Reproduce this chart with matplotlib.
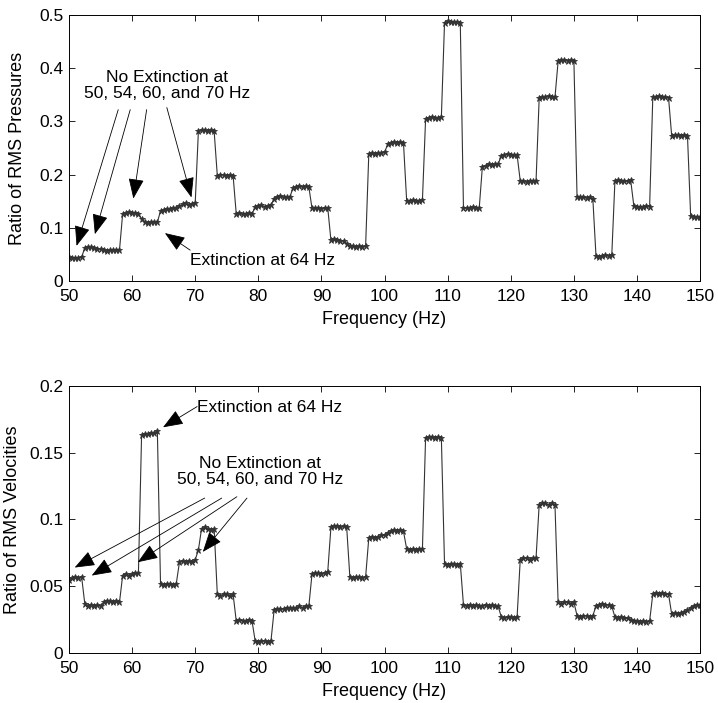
import numpy as np
import matplotlib
matplotlib.use("Agg")
import matplotlib.pyplot as plt

plt.rcParams['font.family'] = ['Liberation Sans', 'DejaVu Sans']

# Frequency grid (Hz), 0.5 Hz resolution
freq = np.arange(50, 150.25, 0.5)

pressure_ratio = [
    0.045, 0.044, 0.043, 0.044, 0.045,
    0.062, 0.064, 0.063, 0.062, 0.061, 0.060,
    0.058, 0.057, 0.058, 0.059, 0.058, 0.058,
    0.126, 0.128, 0.129, 0.127, 0.128, 0.126,
    0.117, 0.110, 0.109, 0.110, 0.111, 0.110,
    0.132, 0.134, 0.136, 0.135, 0.137, 0.138,
    0.141, 0.144, 0.146, 0.143, 0.145, 0.147,
    0.281, 0.283, 0.284, 0.282, 0.283, 0.281,
    0.198, 0.199, 0.200, 0.198, 0.199, 0.198,
    0.126, 0.127, 0.125, 0.126, 0.127, 0.126,
    0.139, 0.141, 0.142, 0.140, 0.141, 0.142,
    0.155, 0.158, 0.159, 0.157, 0.158, 0.158,
    0.175, 0.177, 0.178, 0.177, 0.178, 0.177,
    0.137, 0.138, 0.137, 0.136, 0.138, 0.137,
    0.077, 0.078, 0.077, 0.076, 0.075, 0.070,
    0.066, 0.065, 0.064, 0.065, 0.064, 0.066,
    0.238, 0.240, 0.239, 0.241, 0.240, 0.242,
    0.257, 0.259, 0.261, 0.260, 0.261, 0.259,
    0.151, 0.150, 0.152, 0.151, 0.150, 0.152,
    0.304, 0.306, 0.308, 0.307, 0.306, 0.308,
    0.485, 0.488, 0.487, 0.486, 0.487, 0.485,
    0.138, 0.137, 0.138, 0.139, 0.138, 0.137,
    0.215, 0.217, 0.219, 0.218, 0.219, 0.220,
    0.235, 0.237, 0.238, 0.237, 0.236, 0.237,
    0.188, 0.187, 0.186, 0.187, 0.188, 0.187,
    0.344, 0.346, 0.345, 0.347, 0.346, 0.345,
    0.413, 0.415, 0.416, 0.414, 0.415, 0.414,
    0.158, 0.157, 0.158, 0.156, 0.157, 0.155,
    0.047, 0.046, 0.047, 0.048, 0.047, 0.048,
    0.188, 0.189, 0.188, 0.187, 0.188, 0.189,
    0.141, 0.140, 0.139, 0.140, 0.141, 0.140,
    0.345, 0.346, 0.347, 0.346, 0.345, 0.344,
    0.272, 0.274, 0.275, 0.273, 0.274, 0.272,
    0.122, 0.121, 0.120, 0.121,
]

velocity_ratio = [
    0.055, 0.056, 0.057, 0.056, 0.057,
    0.037, 0.035, 0.036, 0.035, 0.036, 0.035,
    0.038, 0.039, 0.039, 0.038, 0.039, 0.038,
    0.058, 0.059, 0.058, 0.059, 0.060, 0.060,
    0.163, 0.164, 0.164, 0.165, 0.165, 0.166,
    0.052, 0.051, 0.052, 0.052, 0.051, 0.052,
    0.068, 0.069, 0.068, 0.069, 0.068, 0.070,
    0.077, 0.093, 0.094, 0.093, 0.092, 0.093,
    0.044, 0.043, 0.044, 0.044, 0.043, 0.044,
    0.024, 0.025, 0.024, 0.024, 0.025, 0.024,
    0.009, 0.008, 0.009, 0.009, 0.008, 0.009,
    0.032, 0.033, 0.033, 0.033, 0.034, 0.034,
    0.034, 0.034, 0.035, 0.034, 0.035, 0.035,
    0.059, 0.060, 0.060, 0.059, 0.060, 0.061,
    0.094, 0.095, 0.095, 0.094, 0.095, 0.094,
    0.057, 0.056, 0.057, 0.057, 0.056, 0.057,
    0.086, 0.087, 0.086, 0.087, 0.088, 0.088,
    0.090, 0.091, 0.092, 0.091, 0.092, 0.091,
    0.078, 0.077, 0.078, 0.077, 0.078, 0.078,
    0.161, 0.162, 0.162, 0.161, 0.162, 0.161,
    0.067, 0.066, 0.067, 0.067, 0.066, 0.067,
    0.036, 0.035, 0.036, 0.035, 0.036, 0.035,
    0.035, 0.036, 0.035, 0.036, 0.035, 0.035,
    0.027, 0.026, 0.027, 0.027, 0.026, 0.027,
    0.070, 0.071, 0.071, 0.070, 0.071, 0.071,
    0.111, 0.112, 0.112, 0.111, 0.112, 0.111,
    0.038, 0.037, 0.038, 0.038, 0.037, 0.038,
    0.028, 0.027, 0.028, 0.028, 0.027, 0.028,
    0.035, 0.036, 0.037, 0.036, 0.036, 0.035,
    0.027, 0.026, 0.027, 0.026, 0.026, 0.025,
    0.024, 0.024, 0.023, 0.024, 0.023, 0.024,
    0.044, 0.045, 0.044, 0.045, 0.044, 0.044,
    0.029, 0.030, 0.029, 0.030, 0.031, 0.032,
    0.034, 0.035, 0.036, 0.036,
]

x_ticks = [50, 60, 70, 80, 90, 100, 110, 120, 130, 140, 150]
top_yticks = [0, 0.1, 0.2, 0.3, 0.4, 0.5]
top_yticklabels = ["0", "0.1", "0.2", "0.3", "0.4", "0.5"]
bot_yticks = [0, 0.05, 0.1, 0.15, 0.2]
bot_yticklabels = ["0", "0.05", "0.1", "0.15", "0.2"]

fig = plt.figure(figsize=(7.18, 7.03), dpi=100)
ax1 = fig.add_axes([0.0961, 0.6003, 0.879, 0.3784])
ax2 = fig.add_axes([0.0961, 0.0711, 0.879, 0.3800])

line_kw = dict(color='#333333', lw=0.8, marker='*', ms=5, mew=0.6)

arrow_kw = dict(arrowstyle='-|>,head_length=0.9,head_width=0.35', color='black',
                lw=0.6, mutation_scale=14, shrinkA=0, shrinkB=0)

TXT = 12.5


def style(ax, yticks, ylabels, ymax, ylabel, label_x):
    ax.set_xlim(50, 150)
    ax.set_ylim(0, ymax)
    ax.set_xticks(x_ticks)
    ax.set_yticks(yticks)
    ax.set_yticklabels(ylabels)
    ax.tick_params(direction='in', top=True, right=True, length=4, width=0.6,
                   labelsize=12.5)
    ax.tick_params(axis='x', pad=6)
    ax.tick_params(axis='y', pad=4)
    for s in ax.spines.values():
        s.set_linewidth(0.7)
    ax.set_xlabel('Frequency (Hz)', fontsize=13, labelpad=5)
    ax.set_ylabel(ylabel, fontsize=13)
    ax.yaxis.set_label_coords(label_x, 0.5)


ax1.plot(freq, pressure_ratio, **line_kw)
style(ax1, top_yticks, top_yticklabels, 0.5, 'Ratio of RMS Pressures', -0.068)

ax1.text(65.5, 0.368, 'No Extinction at\n50, 54, 60, and 70 Hz', ha='center',
         va='center', fontsize=TXT, linespacing=1.1)
for tail, head in [((57.8, 0.322), (51.2, 0.066)),
                   ((59.7, 0.322), (54.1, 0.088)),
                   ((62.3, 0.322), (60.2, 0.155)),
                   ((65.5, 0.326), (69.4, 0.157))]:
    ax1.annotate('', xy=head, xytext=tail, arrowprops=arrow_kw)
ax1.text(69.2, 0.039, 'Extinction at 64 Hz', ha='left', va='center', fontsize=TXT)
ax1.annotate('', xy=(65.2, 0.09), xytext=(69.2, 0.058), arrowprops=arrow_kw)

ax2.plot(freq, velocity_ratio, **line_kw)
style(ax2, bot_yticks, bot_yticklabels, 0.2, 'Ratio of RMS Velocities', -0.076)

ax2.text(70.3, 0.1835, 'Extinction at 64 Hz', ha='left', va='center', fontsize=TXT)
ax2.annotate('', xy=(64.9, 0.169), xytext=(70.3, 0.1845), arrowprops=arrow_kw)
ax2.text(80.3, 0.136, 'No Extinction at\n50, 54, 60, and 70 Hz', ha='center',
         va='center', fontsize=TXT, linespacing=1.1)
for tail, head in [((71.5, 0.116), (50.9, 0.064)),
                   ((74.2, 0.116), (53.6, 0.058)),
                   ((76.6, 0.117), (60.9, 0.068)),
                   ((78.2, 0.116), (71.2, 0.0757))]:
    ax2.annotate('', xy=head, xytext=tail, arrowprops=arrow_kw)

fig.savefig('out.png', dpi=100)
